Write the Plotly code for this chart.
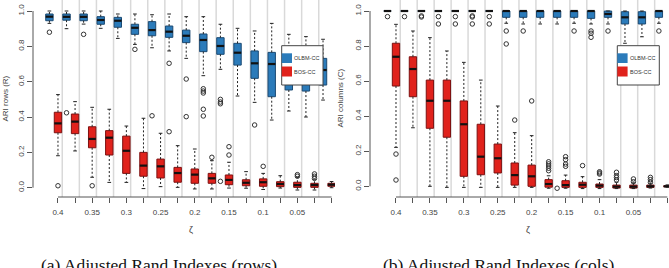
import plotly.graph_objects as go

# ---------------- data ----------------
zeta = [0.4, 0.375, 0.35, 0.325, 0.3, 0.275, 0.25, 0.225, 0.2, 0.175,
        0.15, 0.125, 0.1, 0.075, 0.05, 0.025, 0.0]
zeta_labels = ["0.4", "", "0.35", "", "0.3", "", "0.25", "", "0.2", "",
               "0.15", "", "0.1", "", "0.05", "", ""]
y_ticks = [0.0, 0.2, 0.4, 0.6, 0.8, 1.0]
y_tick_labels = ["0.0", "0.2", "0.4", "0.6", "0.8", "1.0"]

# Panel (a): ARI rows -- OLBM-CC
rows_olbm_lo = [0.930, 0.900, 0.926, 0.902, 0.845, 0.811, 0.792, 0.774, 0.732, 0.634, 0.670, 0.519, 0.483, 0.383, 0.434, 0.400, 0.496]
rows_olbm_q1 = [0.945, 0.948, 0.945, 0.925, 0.908, 0.868, 0.860, 0.851, 0.821, 0.770, 0.755, 0.694, 0.619, 0.515, 0.553, 0.547, 0.581]
rows_olbm_md = [0.968, 0.967, 0.967, 0.949, 0.945, 0.905, 0.892, 0.883, 0.860, 0.836, 0.802, 0.764, 0.704, 0.700, 0.680, 0.660, 0.666]
rows_olbm_q3 = [0.983, 0.983, 0.983, 0.968, 0.964, 0.925, 0.940, 0.915, 0.892, 0.870, 0.849, 0.817, 0.774, 0.766, 0.770, 0.760, 0.732]
rows_olbm_hi = [1.000, 1.000, 1.000, 1.000, 0.983, 0.983, 0.979, 0.983, 0.968, 0.968, 0.925, 0.902, 0.887, 0.930, 0.868, 0.855, 0.840]
rows_olbm_out = [[0.880], [0.424], [0.868], [], [], [0.783], [0.407], [0.704, 0.317],
                 [0.615, 0.402], [0.560, 0.547, 0.536, 0.444, 0.406],
                 [0.500, 0.485, 0.475, 0.036], [], [0.355], [], [], [], []]

# Panel (a): ARI rows -- BOS-CC
rows_bos_lo = [0.181, 0.208, 0.059, 0.030, 0.030, -0.005, 0.006, 0.002, -0.007, -0.007, -0.002, -0.003, -0.010, -0.002, -0.013, -0.013, 0.000]
rows_bos_q1 = [0.311, 0.306, 0.226, 0.185, 0.081, 0.065, 0.055, 0.031, 0.025, 0.025, 0.017, 0.011, 0.008, 0.006, 0.002, 0.002, 0.008]
rows_bos_md = [0.364, 0.374, 0.276, 0.283, 0.209, 0.125, 0.121, 0.083, 0.074, 0.053, 0.044, 0.028, 0.031, 0.021, 0.015, 0.015, 0.017]
rows_bos_q3 = [0.427, 0.417, 0.345, 0.323, 0.292, 0.200, 0.162, 0.115, 0.106, 0.081, 0.072, 0.045, 0.050, 0.034, 0.031, 0.025, 0.025]
rows_bos_hi = [0.527, 0.487, 0.455, 0.444, 0.349, 0.393, 0.308, 0.238, 0.219, 0.153, 0.144, 0.091, 0.081, 0.068, 0.059, 0.045, 0.035]
rows_bos_out = [[0.011], [], [0.011], [], [], [], [], [], [], [0.172], [0.232, 0.185],
                [], [0.121], [], [0.074, 0.065], [0.078, 0.065, 0.053], []]

# Panel (b): ARI columns -- OLBM-CC
cols_olbm_lo = [1.0, 1.0, 1.0, 1.0, 1.0, 1.0, 1.0, 0.930, 0.926, 0.926, 0.926, 0.930, 0.926, 0.926, 0.816, 0.853, 0.930]
cols_olbm_q1 = [1.0, 1.0, 1.0, 1.0, 1.0, 1.0, 1.0, 0.964, 0.964, 0.964, 0.964, 0.964, 0.958, 0.964, 0.926, 0.926, 0.964]
cols_olbm_md = [1.0, 1.0, 1.0, 1.0, 1.0, 1.0, 1.0, 1.000, 1.000, 1.000, 1.000, 1.000, 1.000, 0.983, 0.964, 0.964, 1.000]
cols_olbm_q3 = [1.0, 1.0, 1.0, 1.0, 1.0, 1.0, 1.0, 1.000, 1.000, 1.000, 1.000, 1.000, 1.000, 1.000, 0.996, 0.996, 1.000]
cols_olbm_hi = [1.0, 1.0, 1.0, 1.0, 1.0, 1.0, 1.0, 1.000, 1.000, 1.000, 1.000, 1.000, 1.000, 1.000, 1.000, 1.000, 1.000]
cols_olbm_out = [[0.968], [0.968], [0.972, 0.966], [0.968, 0.926], [0.968, 0.926],
                 [0.972, 0.966, 0.926], [0.968, 0.926], [0.886, 0.812], [0.886], [],
                 [-0.011], [0.886], [0.886, 0.873, 0.850], [0.886], [], [], [0.886]]

# Panel (b): ARI columns -- BOS-CC
cols_bos_lo = [0.222, 0.334, 0.000, -0.006, -0.006, -0.006, -0.006, -0.006, -0.006, -0.011, -0.011, -0.013, -0.013, -0.013, -0.013, -0.010, -0.005]
cols_bos_q1 = [0.572, 0.511, 0.331, 0.280, 0.057, 0.066, 0.076, 0.007, 0.000, -0.005, -0.006, -0.006, -0.006, -0.010, -0.010, -0.006, -0.003]
cols_bos_md = [0.739, 0.669, 0.488, 0.488, 0.354, 0.169, 0.160, 0.064, 0.057, 0.013, 0.007, 0.009, 0.004, -0.002, -0.002, 0.000, 0.000]
cols_bos_q3 = [0.816, 0.739, 0.606, 0.606, 0.487, 0.354, 0.241, 0.133, 0.121, 0.038, 0.032, 0.023, 0.013, 0.007, 0.007, 0.007, 0.003]
cols_bos_hi = [0.924, 0.886, 0.848, 0.772, 0.707, 0.606, 0.458, 0.306, 0.289, 0.060, 0.064, 0.055, 0.038, 0.023, 0.020, 0.018, 0.008]
cols_bos_out = [[0.184, 0.036], [], [], [], [], [], [], [0.378], [0.487],
                [0.140, 0.128, 0.116, 0.103, 0.089], [0.169, 0.152, 0.127, 0.114],
                [0.118], [0.083, 0.076, 0.070], [0.080, 0.061, 0.050, 0.036],
                [0.042, 0.026], [0.051, 0.038, 0.023], []]

series_names = ["OLBM-CC", "BOS-CC"]

# ---------------- style ----------------
FIG_W, FIG_H = 669, 268
BLUE, BLUE_EDGE = "#2b7bba", "#1b4a73"
RED, RED_EDGE = "#e0221c", "#7d1010"
AX_COL = "#555555"
SEP_COL = "#d9d9d9"
BOX_W = 0.0108
OFFSET = 0.0125  # OLBM box sits half a step left of each zeta tick

def px(x):
    return x / FIG_W

def py(y):
    return 1 - y / FIG_H

fig = go.Figure()


def add_boxes(xs, lo, q1, md, q3, hi, out, fill, edge, xa, ya):
    common = dict(xaxis=xa, yaxis=ya, showlegend=False, hoverinfo="skip")
    # whiskers (dashed)
    wx, wy = [], []
    for x, l, a, b, h in zip(xs, lo, q1, q3, hi):
        wx += [x, x, None, x, x, None]
        wy += [b, h, None, a, l, None]
    fig.add_trace(go.Scatter(x=wx, y=wy, mode="lines",
                             line=dict(color="#222222", width=1, dash="2px,2px"), **common))
    # staples
    sx, sy = [], []
    for x, l, h in zip(xs, lo, hi):
        sx += [x - BOX_W / 4, x + BOX_W / 4, None, x - BOX_W / 4, x + BOX_W / 4, None]
        sy += [h, h, None, l, l, None]
    fig.add_trace(go.Scatter(x=sx, y=sy, mode="lines",
                             line=dict(color="#222222", width=1), **common))
    # boxes
    fig.add_trace(go.Bar(x=xs, base=q1, y=[b - a for a, b in zip(q1, q3)], width=BOX_W,
                         marker=dict(color=fill, line=dict(color=edge, width=1)), **common))
    # medians
    mx, my = [], []
    for x, m in zip(xs, md):
        mx += [x - BOX_W / 2, x + BOX_W / 2, None]
        my += [m, m, None]
    fig.add_trace(go.Scatter(x=mx, y=my, mode="lines",
                             line=dict(color="#111111", width=2.2), **common))
    # outliers
    ox, oy = [], []
    for x, o in zip(xs, out):
        ox += [x] * len(o)
        oy += o
    fig.add_trace(go.Scatter(x=ox, y=oy, mode="markers",
                             marker=dict(symbol="circle-open", size=4.5, color="#333333",
                                         line=dict(width=1, color="#333333")), **common))


panels = [
    dict(xa="x", ya="y", dom=[px(33), px(335)], xr=[0.4365, -0.005], yr=[-0.0526, 1.0623],
         olbm=(rows_olbm_lo, rows_olbm_q1, rows_olbm_md, rows_olbm_q3, rows_olbm_hi, rows_olbm_out),
         bos=(rows_bos_lo, rows_bos_q1, rows_bos_md, rows_bos_q3, rows_bos_hi, rows_bos_out),
         ytitle="ARI rows (R)", ytitle_x=5, zeta_x=191, cap="(a) Adjusted Rand Indexes (rows)",
         cap_x=159, leg=(281.7, 323.0)),
    dict(xa="x2", ya="y2", dom=[px(370), 1.0], xr=[0.4383, -0.0024], yr=[-0.0610, 1.0628],
         olbm=(cols_olbm_lo, cols_olbm_q1, cols_olbm_md, cols_olbm_q3, cols_olbm_hi, cols_olbm_out),
         bos=(cols_bos_lo, cols_bos_q1, cols_bos_md, cols_bos_q3, cols_bos_hi, cols_bos_out),
         ytitle="ARI columns (C)", ytitle_x=340, zeta_x=528, cap="(b) Adjusted Rand Indexes (cols)",
         cap_x=499, leg=(617.3, 659.3)),
]

shapes = []
annotations = []
tick_font = dict(family="Liberation Sans, Arial, sans-serif", size=8, color="#444444")

for i, p in enumerate(panels):
    xa, ya = p["xa"], p["ya"]
    olbm_x = [z + OFFSET for z in zeta]
    add_boxes(olbm_x, *p["olbm"], BLUE, BLUE_EDGE, xa, ya)
    add_boxes(zeta, *p["bos"], RED, RED_EDGE, xa, ya)

    # separators between zeta groups
    for z in zeta[:-1]:
        shapes.append(dict(type="line", xref=xa, yref=ya + " domain", x0=z - OFFSET / 2,
                           x1=z - OFFSET / 2, y0=0, y1=1, layer="below",
                           line=dict(color=SEP_COL, width=1.5)))
    # R style axis lines
    shapes.append(dict(type="line", xref=xa, yref=ya + " domain", x0=zeta[0], x1=zeta[-1],
                       y0=0, y1=0, line=dict(color=AX_COL, width=1)))
    shapes.append(dict(type="line", xref=xa + " domain", yref=ya, x0=0, x1=0,
                       y0=y_ticks[0], y1=y_ticks[-1], line=dict(color=AX_COL, width=1)))

    # legend box
    lx0, lx1 = p["leg"]
    shapes.append(dict(type="rect", xref="paper", yref="paper", x0=px(lx0), x1=px(lx1),
                       y0=py(85), y1=py(45.7), fillcolor="white",
                       line=dict(color="#444444", width=1), layer="above"))
    for k, (col, y0, y1) in enumerate([(BLUE, 53.3, 63.0), (RED, 66.5, 76.5)]):
        shapes.append(dict(type="rect", xref="paper", yref="paper", x0=px(lx0), x1=px(lx0 + 10.3),
                           y0=py(y1), y1=py(y0), fillcolor=col, line=dict(width=0), layer="above"))
        annotations.append(dict(xref="paper", yref="paper", x=px(lx0 + 10.6), y=py((y0 + y1) / 2),
                                text=series_names[k], showarrow=False, xanchor="left",
                                yanchor="middle",
                                font=dict(family="Liberation Sans, Arial", size=5.5, color="#333333")))

    # axis titles and captions
    annotations.append(dict(xref="paper", yref="paper", x=px(p["ytitle_x"]), y=py(98.5),
                            text=p["ytitle"], textangle=-90, showarrow=False,
                            xanchor="center", yanchor="middle",
                            font=dict(family="Liberation Sans, Arial", size=8, color="#444444")))
    annotations.append(dict(xref="paper", yref="paper", x=px(p["zeta_x"]), y=py(230),
                            text="ζ", showarrow=False, xanchor="center", yanchor="middle",
                            font=dict(family="Liberation Sans, Arial", size=9, color="#444444")))
    annotations.append(dict(xref="paper", yref="paper", x=px(p["cap_x"]), y=py(253),
                            text=p["cap"], showarrow=False, xanchor="center", yanchor="top",
                            font=dict(family="Liberation Serif, Times New Roman, serif",
                                      size=17.5, color="#111111")))

    xkey = "xaxis" if i == 0 else "xaxis2"
    ykey = "yaxis" if i == 0 else "yaxis2"
    fig.update_layout(**{
        xkey: dict(domain=p["dom"], range=p["xr"], tickmode="array", tickvals=zeta,
                   ticktext=zeta_labels, ticks="outside", ticklen=5, tickcolor=AX_COL,
                   tickwidth=1, showline=False, showgrid=False, zeroline=False,
                   tickfont=tick_font, tickangle=0, automargin=False,
                   ticklabelstandoff=2, anchor=ya),
        ykey: dict(domain=[py(197), 1.0], range=p["yr"], tickmode="array", tickvals=y_ticks,
                   ticktext=y_tick_labels, ticks="outside", ticklen=5, tickcolor=AX_COL,
                   tickwidth=1, showline=False, showgrid=False, zeroline=False,
                   tickfont=tick_font, tickangle=-90, automargin=False,
                   ticklabelstandoff=0, anchor=xa),
    })

fig.update_layout(width=FIG_W, height=FIG_H, margin=dict(l=0, r=0, t=0, b=0),
                  paper_bgcolor="white", plot_bgcolor="white", barmode="overlay",
                  showlegend=False, shapes=shapes, annotations=annotations)

fig.write_html("out.html", include_plotlyjs=True, config={"displayModeBar": False})
